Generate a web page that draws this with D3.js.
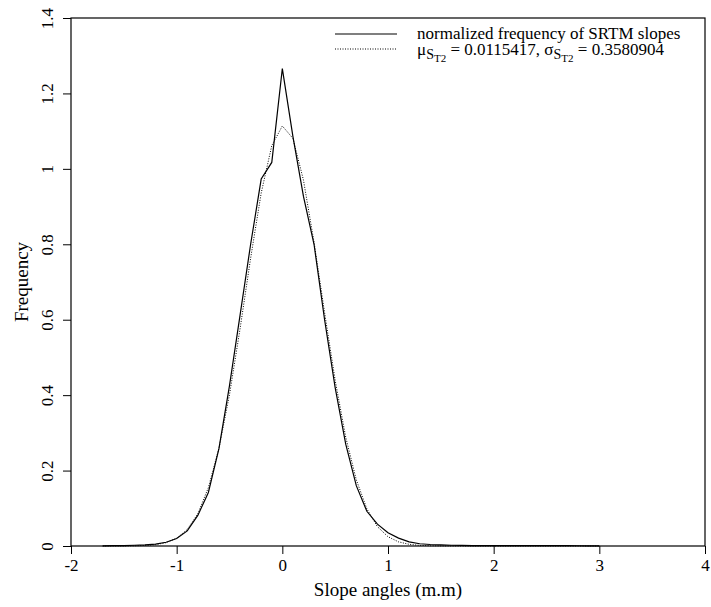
<!DOCTYPE html>
<html>
  <head>
    <meta charset="utf-8">
    <title>Frequency of SRTM slopes</title>
    <script src="https://d3js.org/d3.v7.min.js"></script>
    <style>
      body { margin: 0; background: #fff; }
      svg text { font-family: "Liberation Serif", "Times New Roman", serif; fill: #000; }
      .domain { display: none; }
    </style>
  </head>
  <body>
    <svg id="chart" width="711" height="607"></svg>

    <script>
      // data (bin centres, step 0.1)
      var slopeX = [-1.7, -1.6, -1.5, -1.4, -1.3, -1.2, -1.1, -1.0, -0.9, -0.8, -0.7, -0.6, -0.5, -0.4, -0.3, -0.2, -0.1,
        0, 0.1, 0.2, 0.3, 0.4, 0.5, 0.6, 0.7, 0.8, 0.9, 1.0, 1.1, 1.2, 1.3, 1.4, 1.5, 1.6, 1.7, 1.8, 1.9, 2.0,
        2.1, 2.2, 2.3, 2.4, 2.5, 2.6, 2.7, 2.8, 2.9, 3.0];
      var srtmFreq = [0.0005, 0.0008, 0.0012, 0.002, 0.003, 0.005, 0.010, 0.020, 0.040, 0.081, 0.142, 0.258, 0.425, 0.612, 0.800, 0.973, 1.017,
        1.266, 1.086, 0.927, 0.800, 0.600, 0.420, 0.270, 0.160, 0.092, 0.058, 0.035, 0.021, 0.011, 0.006, 0.004, 0.003, 0.002, 0.0015, 0.0012, 0.001, 0.001,
        0.001, 0.001, 0.001, 0.001, 0.001, 0.0008, 0.0008, 0.0006, 0.0005, 0.0005];
      var normalFreq = [0.00001, 0.00005, 0.00015, 0.0005, 0.0014, 0.0036, 0.009, 0.0206, 0.0436, 0.0854, 0.1547, 0.2591, 0.4015, 0.5759, 0.7632, 0.9359, 1.0616,
        1.1137, 1.0809, 0.9701, 0.8053, 0.6185, 0.4393, 0.2885, 0.1754, 0.0985, 0.0512, 0.0246, 0.0109, 0.0045, 0.0017, 0.0006, 0.0002, 0.0001, 0, 0, 0, 0,
        0, 0, 0, 0, 0, 0, 0, 0, 0, 0];
      var xTicks = [-2, -1, 0, 1, 2, 3, 4];
      var yTicks = [0, 0.2, 0.4, 0.6, 0.8, 1, 1.2, 1.4];

      // plot frame
      var svg = d3.select("#chart");
      var plotL = 71, plotR = 705, plotT = 18, plotB = 546;

      var x = d3.scaleLinear().domain([-2, 4]).range([plotL, plotR]);
      var y = d3.scaleLinear().domain([0, 1.4]).range([plotB, plotT]);

      // axes
      var xAxis = svg.append("g")
        .attr("transform", "translate(0," + plotB + ")")
        .call(d3.axisBottom(x).tickValues(xTicks).tickSize(8).tickPadding(5)
          .tickFormat(function(d) { return String(d); }));
      xAxis.selectAll("line").attr("stroke", "#000");
      xAxis.selectAll("text").style("font-size", "17px");

      var yAxis = svg.append("g")
        .attr("transform", "translate(" + plotL + ",0)")
        .call(d3.axisLeft(y).tickValues(yTicks).tickSize(8)
          .tickFormat(function(d) { return String(d); }));
      yAxis.selectAll("line").attr("stroke", "#000");
      yAxis.selectAll("text")
        .style("font-size", "17px")
        .attr("text-anchor", "middle")
        .attr("x", 0)
        .attr("dy", 0)
        .attr("transform", "translate(-18,0) rotate(-90)");

      svg.append("rect")
        .attr("x", plotL).attr("y", plotT)
        .attr("width", plotR - plotL).attr("height", plotB - plotT)
        .attr("fill", "none").attr("stroke", "#000").attr("stroke-width", 1.2);

      // curves
      var line = d3.line()
        .x(function(d) { return x(d[0]); })
        .y(function(d) { return y(d[1]); });

      svg.append("path")
        .datum(d3.zip(slopeX, normalFreq))
        .attr("d", line)
        .attr("fill", "none")
        .attr("stroke", "#000")
        .attr("stroke-width", 1)
        .attr("stroke-dasharray", "1,1.5");

      svg.append("path")
        .datum(d3.zip(slopeX, srtmFreq))
        .attr("d", line)
        .attr("fill", "none")
        .attr("stroke", "#000")
        .attr("stroke-width", 1.2);

      // titles
      svg.append("text")
        .attr("x", (plotL + plotR) / 2).attr("y", 596)
        .attr("text-anchor", "middle")
        .style("font-size", "19px")
        .text("Slope angles (m.m)");

      svg.append("text")
        .attr("transform", "translate(28," + (plotT + plotB) / 2 + ") rotate(-90)")
        .attr("text-anchor", "middle")
        .style("font-size", "19px")
        .text("Frequency");

      // legend
      var legend = svg.append("g");
      legend.append("line")
        .attr("x1", 335).attr("x2", 397).attr("y1", 34).attr("y2", 34)
        .attr("stroke", "#000").attr("stroke-width", 1.2);
      legend.append("line")
        .attr("x1", 335).attr("x2", 397).attr("y1", 49).attr("y2", 49)
        .attr("stroke", "#000").attr("stroke-width", 1).attr("stroke-dasharray", "1,1.5");
      legend.append("text")
        .attr("x", 417).attr("y", 39)
        .style("font-size", "17px")
        .text("normalized frequency of SRTM slopes");

      var t2 = legend.append("text")
        .attr("x", 417).attr("y", 55)
        .style("font-size", "17px");
      t2.append("tspan").text("\u03bc");
      t2.append("tspan").attr("dy", 4).style("font-size", "14px").text("S");
      t2.append("tspan").attr("dy", 3).style("font-size", "11px").text("T2");
      t2.append("tspan").attr("dy", -7).text(" = 0.0115417, \u03c3");
      t2.append("tspan").attr("dy", 4).style("font-size", "14px").text("S");
      t2.append("tspan").attr("dy", 3).style("font-size", "11px").text("T2");
      t2.append("tspan").attr("dy", -7).text(" = 0.3580904");
    </script>
  </body>
</html>
